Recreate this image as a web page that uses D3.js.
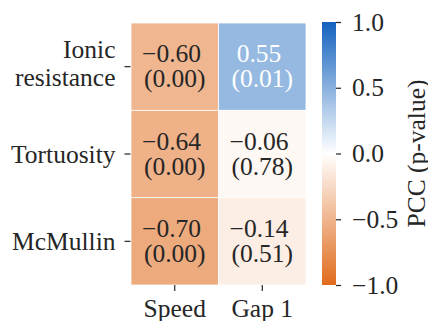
<!DOCTYPE html>
<html>
<head>
<meta charset="utf-8">
<script src="https://cdn.jsdelivr.net/npm/d3@7"></script>
<style>
  html, body { margin: 0; padding: 0; background: #ffffff; }
  svg { display: block; }
  text { font-family: "Liberation Serif", "Times New Roman", serif; }
</style>
</head>
<body>
<svg id="chart" width="428" height="321"></svg>
<script>
// ---- data ----
const rows = ["Ionic\nresistance", "Tortuosity", "McMullin"];
const cols = ["Speed", "Gap 1"];
const pcc = [
  [-0.60, 0.55],
  [-0.64, -0.06],
  [-0.70, -0.14]
];
const pvals = [
  [0.00, 0.01],
  [0.00, 0.78],
  [0.00, 0.51]
];
const cbarTicks = [-1.0, -0.5, 0.0, 0.5, 1.0];
const cbarLabel = "PCC (p-value)";

// ---- layout ----
const hm = { x0: 131, x1: 306, y0: 23, y1: 285 };
const cb = { x0: 322, x1: 336, y0: 22, y1: 285 };
const FS = 25.5;
const ink = "#262626";
const fmt = v => d3.format(".2f")(v).replace("-", "\u2212");

const svg = d3.select("#chart");

const color = d3.scaleLinear()
  .domain([-1, 0, 1])
  .range(["#e06b1c", "#ffffff", "#1462be"])
  .interpolate(d3.interpolateRgb);

const x = d3.scaleBand().domain(cols).range([hm.x0, hm.x1]);
const y = d3.scaleBand().domain(rows).range([hm.y0, hm.y1]);

const cells = [];
rows.forEach((r, i) => cols.forEach((c, j) => cells.push({ r, c, v: pcc[i][j], p: pvals[i][j] })));

const g = svg.append("g");
g.selectAll("rect.cell").data(cells).enter().append("rect")
  .attr("class", "cell")
  .attr("x", d => x(d.c))
  .attr("y", d => y(d.r))
  .attr("width", x.bandwidth())
  .attr("height", y.bandwidth())
  .attr("fill", d => color(d.v))
  .attr("fill-opacity", 0.82)
  .attr("stroke", "#ffffff")
  .attr("stroke-width", 0.8);

const ann = g.selectAll("text.ann").data(cells).enter().append("text")
  .attr("class", "ann")
  .attr("text-anchor", "middle")
  .attr("font-size", FS)
  .attr("fill", d => d.v > 0.3 ? "#ffffff" : ink);
ann.append("tspan")
  .attr("x", d => x(d.c) + x.bandwidth() / 2 - 3.2)
  .attr("y", d => y(d.r) + y.bandwidth() / 2 - 4.5)
  .text(d => fmt(d.v));
ann.append("tspan")
  .attr("x", d => x(d.c) + x.bandwidth() / 2)
  .attr("y", d => y(d.r) + y.bandwidth() / 2 + 20.5)
  .text(d => "(" + d3.format(".2f")(d.p) + ")");

// y axis
const yAxis = svg.append("g")
  .attr("transform", `translate(${hm.x0 - 0.5},0)`)
  .call(d3.axisLeft(y).tickSize(6).tickPadding(9));
yAxis.select(".domain").remove();
yAxis.selectAll(".tick line").attr("stroke", ink).attr("stroke-width", 1.2);
yAxis.selectAll(".tick text").each(function (d) {
  const t = d3.select(this);
  const lines = d.split("\n");
  t.text(null).attr("dy", null).attr("font-size", FS).attr("fill", ink)
    .attr("font-family", "Liberation Serif");
  const xx = t.attr("x");
  const first = lines.length === 1 ? 8.5 : -8.3;
  lines.forEach((ln, k) => {
    t.append("tspan").attr("x", xx).attr("y", first + k * 27.3).text(ln);
  });
});

// x axis
const xAxis = svg.append("g")
  .attr("transform", `translate(0,${hm.y1})`)
  .call(d3.axisBottom(x).tickSize(6).tickPadding(8));
xAxis.select(".domain").remove();
xAxis.selectAll(".tick line").attr("stroke", ink).attr("stroke-width", 1.2);
xAxis.selectAll(".tick text").attr("font-size", FS).attr("fill", ink)
  .attr("font-family", "Liberation Serif").attr("dy", "0.71em");

// colorbar
const cbY = d3.scaleLinear().domain([-1, 1]).range([cb.y1, cb.y0]);
const defs = svg.append("defs");
const grad = defs.append("linearGradient").attr("id", "cbgrad")
  .attr("x1", 0).attr("y1", 1).attr("x2", 0).attr("y2", 0);
d3.range(0, 1.0001, 0.05).forEach(t => {
  grad.append("stop").attr("offset", t).attr("stop-color", color(-1 + 2 * t));
});
svg.append("rect")
  .attr("x", cb.x0).attr("y", cbY(1)).attr("width", cb.x1 - cb.x0)
  .attr("height", cbY(-1) - cbY(1))
  .attr("fill", "url(#cbgrad)");

const cAxis = svg.append("g")
  .attr("transform", `translate(${cb.x1},0)`)
  .call(d3.axisRight(cbY).tickValues(cbarTicks).tickSize(5).tickPadding(11)
    .tickFormat(v => d3.format(".1f")(v).replace("-", "\u2212")));
cAxis.select(".domain").remove();
cAxis.selectAll(".tick line").attr("stroke", ink).attr("stroke-width", 1.2);
cAxis.selectAll(".tick text").attr("font-size", FS).attr("fill", ink)
  .attr("font-family", "Liberation Serif");

svg.append("text")
  .attr("transform", `translate(425,${(cb.y0 + cb.y1) / 2}) rotate(-90)`)
  .attr("text-anchor", "middle")
  .attr("font-size", FS)
  .attr("fill", ink)
  .text(cbarLabel);
</script>
</body>
</html>
